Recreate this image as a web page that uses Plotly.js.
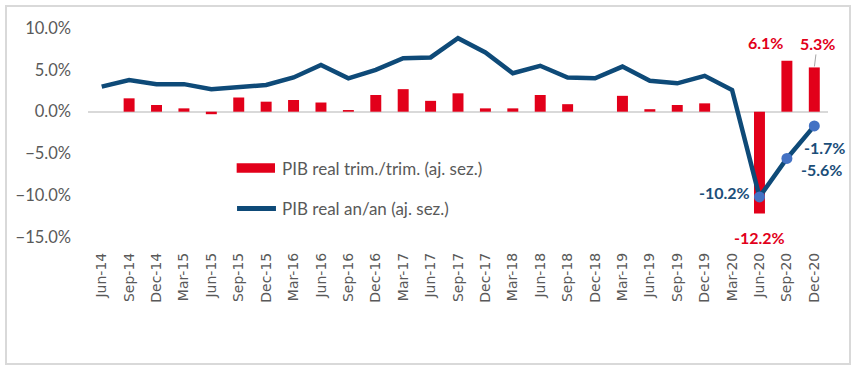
<!DOCTYPE html>
<html>
<head>
<meta charset="utf-8">
<script src="https://cdn.plot.ly/plotly-3.0.1.min.js"></script>
<style>
  html, body { margin: 0; padding: 0; background: #ffffff; }
  #wrap { position: relative; width: 856px; height: 372px; }
  #frame { position: absolute; left: 5px; top: 5px; width: 846px; height: 360px; border: 2px solid #d9d9d9; box-sizing: border-box; pointer-events: none; }
  #chart { position: absolute; left: 0; top: 0; width: 856px; height: 372px; }
</style>
</head>
<body>
<div id="wrap">
  <div id="chart"></div>
  <div id="frame"></div>
</div>
<script>
const quarters = ["Jun-14","Sep-14","Dec-14","Mar-15","Jun-15","Sep-15","Dec-15","Mar-16","Jun-16","Sep-16","Dec-16","Mar-17","Jun-17","Sep-17","Dec-17","Mar-18","Jun-18","Sep-18","Dec-18","Mar-19","Jun-19","Sep-19","Dec-19","Mar-20","Jun-20","Sep-20","Dec-20"];
const qoq = [null,1.6,0.8,0.4,-0.3,1.7,1.2,1.4,1.1,0.2,2.0,2.7,1.3,2.2,0.4,0.4,2.0,0.9,null,1.9,0.3,0.8,1.0,null,-12.2,6.1,5.3];
const yoy = [3.0,3.8,3.3,3.3,2.7,2.9,3.2,4.1,5.6,4.0,5.0,6.4,6.5,8.8,7.1,4.6,5.5,4.1,4.0,5.4,3.7,3.4,4.3,2.6,-10.2,-5.6,-1.7];
const markerQuarters = ["Jun-20","Sep-20","Dec-20"];
const markerValues = [-10.2,-5.6,-1.7];
const legendBar = "PIB real trim./trim. (aj. sez.)";
const legendLine = "PIB real an/an (aj. sez.)";

const red = "#E2001A";
const navy = "#0E4A78";
const labelBlue = "#1B4E79";
const gray = "#595959";

const traces = [
  { type: "bar", x: quarters, y: qoq, name: legendBar, marker: { color: red }, hoverinfo: "x+y" },
  { type: "scatter", mode: "lines", x: quarters, y: yoy, name: legendLine, line: { color: navy, width: 4.5 } },
  { type: "scatter", mode: "markers", x: markerQuarters, y: markerValues, marker: { color: "#4472C4", size: 11 }, showlegend: false }
];

const fmt = v => v.toFixed(1) + "%";
const lblFont = (c) => ({ family: "Lato, 'Open Sans', sans-serif", size: 16, color: c, weight: "bold" });

const annotations = [
  { x: quarters[25], y: qoq[25], text: "<b>" + fmt(qoq[25]) + "</b>", showarrow: false, xshift: -21, yshift: 18, font: lblFont(red) },
  { x: quarters[26], y: qoq[26], text: "<b>" + fmt(qoq[26]) + "</b>", showarrow: true, arrowhead: 0, arrowwidth: 1, arrowcolor: "#a6a6a6", ax: 3, ay: -24, standoff: 1, font: lblFont(red) },
  { x: quarters[24], y: qoq[24], text: "<b>" + fmt(qoq[24]) + "</b>", showarrow: false, yshift: -24, font: lblFont(red) },
  { x: quarters[24], y: yoy[24], text: "<b>" + fmt(yoy[24]) + "</b>", showarrow: false, xshift: -35, yshift: 4, font: lblFont(labelBlue) },
  { x: quarters[25], y: yoy[25], text: "<b>" + fmt(yoy[25]) + "</b>", showarrow: false, xshift: 35, yshift: -11, font: lblFont(labelBlue) },
  { x: quarters[26], y: yoy[26], text: "<b>" + fmt(yoy[26]) + "</b>", showarrow: false, xshift: 10, yshift: -22, font: lblFont(labelBlue) },
  { xref: "paper", yref: "paper", x: 0.2595, y: 0.330, xanchor: "left", yanchor: "middle", text: legendBar, showarrow: false, font: { family: "Lato, sans-serif", size: 17, color: gray } },
  { xref: "paper", yref: "paper", x: 0.2595, y: 0.134, xanchor: "left", yanchor: "middle", text: legendLine, showarrow: false, font: { family: "Lato, sans-serif", size: 17, color: gray } }
];

const shapes = [
  { type: "rect", xref: "paper", yref: "paper", x0: 0.2009, x1: 0.2527, y0: 0.3077, y1: 0.3526, fillcolor: red, line: { width: 0 } },
  { type: "line", xref: "paper", yref: "paper", x0: 0.2014, x1: 0.254, y0: 0.1364, y1: 0.1364, line: { color: navy, width: 5 } }
];

const layout = {
  width: 856, height: 372,
  margin: { l: 88, r: 28, t: 28, b: 135 },
  paper_bgcolor: "#ffffff", plot_bgcolor: "#ffffff",
  showlegend: false,
  bargap: 0.6,
  xaxis: {
    type: "category", tickangle: -90, showgrid: false, showline: false, ticks: "",
    tickfont: { family: "'DejaVu Sans', Verdana, sans-serif", size: 14, color: gray },
    ticklabelstandoff: 12, range: [-0.5, 26.5]
  },
  yaxis: {
    range: [-15, 10.02], dtick: 5, tick0: 0, tickformat: ".1f", ticksuffix: "%",
    showgrid: false, showline: false, ticks: "",
    zeroline: true, zerolinecolor: "#d9d9d9", zerolinewidth: 2,
    tickfont: { family: "Lato, sans-serif", size: 16.5, color: gray },
    ticklabelstandoff: 16
  },
  annotations: annotations,
  shapes: shapes
};

Plotly.newPlot("chart", traces, layout, { displayModeBar: false, staticPlot: true });
</script>
</body>
</html>
